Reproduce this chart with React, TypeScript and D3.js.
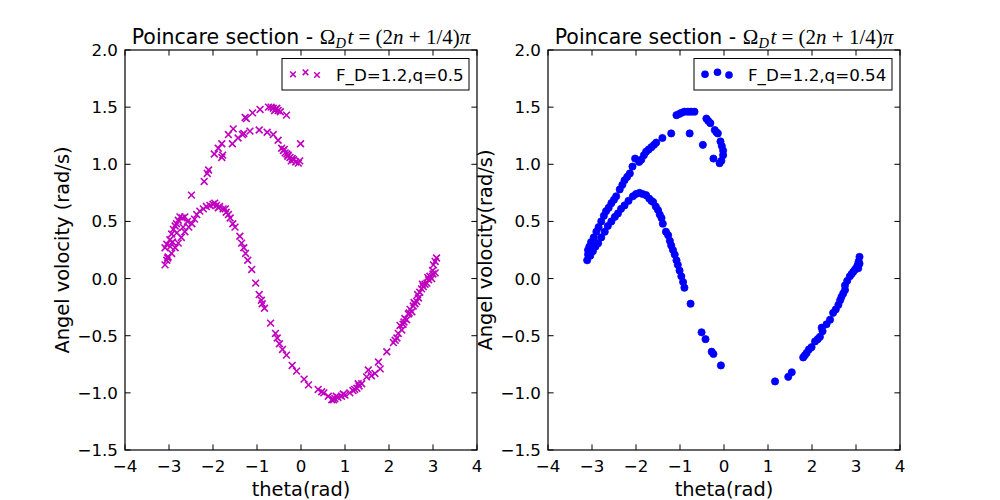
import React from "react";
import * as d3 from "d3";

const xTicks = [-4, -3, -2, -1, 0, 1, 2, 3, 4];
const yTicks = [-1.5, -1.0, -0.5, 0.0, 0.5, 1.0, 1.5, 2.0];

const leftLabel = "F_D=1.2,q=0.5";
const rightLabel = "F_D=1.2,q=0.54";

// q = 0.5 Poincare section (theta, omega)
const leftPoints: [number, number][] = [
  [-2.49, 0.73], [-2.20, 0.85], [-2.13, 0.92], [-2.10, 0.95], [-1.97, 1.09], [-1.78, 1.08], [-1.80, 1.06],
  [-1.88, 1.14], [-1.80, 1.18], [-1.65, 1.26], [-1.54, 1.31], [-1.56, 1.18], [-1.43, 1.23], [-1.33, 1.26],
  [-1.30, 1.27], [-1.16, 1.29], [-1.27, 1.41], [-1.24, 1.40], [-1.10, 1.45], [-0.93, 1.48], [-0.95, 1.30],
  [-0.77, 1.28], [-0.74, 1.50], [-0.68, 1.50], [-0.63, 1.49], [-0.58, 1.48], [-0.52, 1.47], [-0.47, 1.46],
  [-0.60, 1.47], [-0.55, 1.49], [-0.33, 1.43], [-0.63, 1.26], [-0.52, 1.21], [-0.44, 1.14], [-0.40, 1.12],
  [-0.36, 1.10], [-0.32, 1.09], [-0.29, 1.08], [-0.25, 1.06], [-0.20, 1.05], [-0.17, 1.04], [-0.12, 1.02],
  [-0.06, 1.01], [-0.03, 1.03], [-0.38, 1.13], [-0.30, 1.07], [-0.22, 1.03], [-0.01, 1.18],
  [-3.09, 0.12], [-3.05, 0.16], [-3.02, 0.19], [-3.09, 0.27], [-3.05, 0.30], [-2.98, 0.34], [-2.94, 0.39],
  [-2.90, 0.43], [-2.86, 0.46], [-2.83, 0.48], [-2.79, 0.51], [-2.75, 0.54], [-2.70, 0.53], [-2.64, 0.54],
  [-3.03, 0.18], [-2.94, 0.22], [-2.86, 0.27], [-2.79, 0.31], [-2.72, 0.36], [-2.64, 0.41], [-2.55, 0.45],
  [-2.48, 0.48], [-2.42, 0.52], [-2.37, 0.56], [-2.30, 0.59], [-2.22, 0.61], [-2.15, 0.63], [-2.07, 0.64],
  [-2.00, 0.65], [-1.92, 0.64], [-1.85, 0.63], [-1.77, 0.61], [-1.70, 0.58], [-1.65, 0.56], [-1.61, 0.53],
  [-1.55, 0.48], [-1.50, 0.45], [-1.39, 0.37], [-1.35, 0.31], [-1.30, 0.27], [-1.26, 0.22], [-1.21, 0.16],
  [-1.12, 0.08], [-1.03, -0.04], [-0.95, -0.14], [-0.90, -0.19], [-0.88, -0.22], [-0.83, -0.26],
  [-0.69, -0.39], [-0.58, -0.48], [-0.54, -0.52], [-0.49, -0.57], [-0.42, -0.62], [-0.33, -0.67],
  [-0.20, -0.76], [-0.10, -0.81], [0.07, -0.88], [0.17, -0.93], [0.39, -0.97], [0.47, -0.99], [0.52, -1.00],
  [0.70, -1.06], [0.74, -1.06], [0.77, -1.05], [0.84, -1.04], [0.92, -1.03], [1.00, -1.02], [1.11, -1.00],
  [1.18, -0.98], [1.27, -0.96], [1.32, -0.94], [1.38, -0.92], [1.49, -0.86], [1.53, -0.80], [1.60, -0.85],
  [1.68, -0.83], [1.76, -0.73], [1.80, -0.79], [1.95, -0.64], [2.10, -0.56], [2.14, -0.54], [2.18, -0.52],
  [2.21, -0.48], [2.25, -0.41], [2.29, -0.45], [2.32, -0.40], [2.36, -0.35], [2.40, -0.36], [2.44, -0.31],
  [2.48, -0.27], [2.52, -0.29], [2.55, -0.24], [2.59, -0.22], [2.63, -0.20], [2.67, -0.17], [2.70, -0.12],
  [2.74, -0.09], [2.78, -0.07], [2.82, -0.05], [2.86, -0.04], [2.90, -0.01], [2.93, 0.02], [2.97, 0.00],
  [3.00, 0.04], [3.05, 0.05], [3.01, 0.12], [3.05, 0.15], [3.08, 0.18],
  [2.34, -0.38], [2.46, -0.30], [2.57, -0.21], [2.65, -0.14], [2.76, -0.05], [2.88, 0.01], [2.99, 0.07],
  [0.62, -1.03], [0.80, -1.03], [0.96, -1.01], [1.22, -0.97], [1.30, -0.92], [-2.97, 0.28], [-2.92, 0.32],
  [-2.82, 0.40], [-2.68, 0.45], [-2.58, 0.50], [-1.96, 0.66], [-1.88, 0.62], [-1.72, 0.61],
];

// q = 0.54 Poincare section (theta, omega)
const rightPoints: [number, number][] = [
  [-3.11, 0.16], [-3.09, 0.21], [-3.09, 0.25], [-3.06, 0.28], [-3.02, 0.32], [-2.96, 0.36], [-2.90, 0.41],
  [-2.85, 0.45], [-2.79, 0.50], [-2.73, 0.55], [-2.68, 0.59], [-2.62, 0.62], [-2.56, 0.66], [-2.50, 0.69],
  [-2.45, 0.72], [-2.37, 0.78], [-2.31, 0.82], [-2.26, 0.86], [-2.20, 0.89], [-2.14, 0.92], [-2.08, 0.98],
  [-2.02, 1.05], [-1.93, 1.02], [-1.88, 1.04], [-1.82, 1.08], [-1.77, 1.11], [-1.71, 1.13], [-1.65, 1.15],
  [-1.59, 1.17], [-1.54, 1.19], [-1.40, 1.23], [-1.20, 1.27], [-1.08, 1.43], [-1.02, 1.44], [-0.97, 1.45],
  [-0.90, 1.46], [-0.82, 1.46], [-0.75, 1.46], [-0.67, 1.46], [-0.78, 1.27], [-0.48, 1.17], [-0.40, 1.40],
  [-0.36, 1.38], [-0.31, 1.36], [-0.21, 1.30], [-0.17, 1.28], [-0.14, 1.27], [-0.08, 1.20], [-0.05, 1.16],
  [-0.02, 1.12], [-0.02, 1.08], [-0.06, 1.03], [-0.10, 1.01], [-0.24, 1.05],
  [-3.04, 0.20], [-2.98, 0.24], [-2.92, 0.28], [-2.86, 0.31], [-2.79, 0.36], [-2.71, 0.41], [-2.64, 0.46],
  [-2.56, 0.50], [-2.48, 0.54], [-2.41, 0.57], [-2.34, 0.61], [-2.26, 0.64], [-2.17, 0.68], [-2.07, 0.72],
  [-2.00, 0.74], [-1.92, 0.75], [-1.85, 0.74], [-1.77, 0.73], [-1.70, 0.70], [-1.65, 0.68], [-1.61, 0.67],
  [-1.55, 0.63], [-1.50, 0.60], [-1.46, 0.56], [-1.42, 0.53], [-1.39, 0.48], [-1.32, 0.41], [-1.27, 0.38],
  [-1.23, 0.33], [-1.20, 0.29], [-1.16, 0.25], [-1.12, 0.21], [-1.08, 0.16], [-1.05, 0.12], [-1.01, 0.07],
  [-0.97, 0.02], [-0.93, -0.03], [-0.90, -0.08], [-0.76, -0.22], [-0.51, -0.47], [-0.42, -0.53],
  [-0.28, -0.64], [-0.24, -0.66], [-0.07, -0.76], [1.16, -0.90], [1.46, -0.86], [1.54, -0.82], [1.80, -0.69],
  [1.84, -0.67], [1.88, -0.65], [1.93, -0.62], [1.99, -0.60], [2.07, -0.55], [2.13, -0.53], [2.18, -0.51],
  [2.22, -0.43], [2.24, -0.46], [2.33, -0.40], [2.41, -0.36], [2.48, -0.30], [2.54, -0.27], [2.60, -0.23],
  [2.64, -0.19], [2.67, -0.16], [2.71, -0.13], [2.75, -0.10], [2.75, -0.06], [2.80, -0.02], [2.86, 0.02],
  [2.90, 0.04], [2.94, 0.06], [2.98, 0.08], [3.02, 0.10], [3.04, 0.12], [3.06, 0.15], [3.08, 0.19],
  [3.05, 0.09], [3.08, 0.13],
];

const MAGENTA = "#bf00bf";
const BLUE = "#0000ff";
const SANS = "'DejaVu Sans', sans-serif";
const MATH = "'Liberation Serif', 'DejaVu Serif', serif";

const fmtTick = (v: number, dec: number) => {
  const s = Math.abs(v).toFixed(dec);
  return v < 0 ? "\u2212" + s : s;
};

function XMark({ x, y, color }: { x: number; y: number; color: string }) {
  const h = 3.4;
  return (
    <path
      d={`M${x - h},${y - h}L${x + h},${y + h}M${x - h},${y + h}L${x + h},${y - h}`}
      stroke={color}
      strokeWidth={1.6}
      fill="none"
    />
  );
}

function Dot({ x, y, color }: { x: number; y: number; color: string }) {
  return <circle cx={x} cy={y} r={3.6} fill={color} stroke={color} strokeWidth={0.8} />;
}

function Panel({
  left,
  points,
  kind,
  color,
  label,
  ylabel,
  legendW,
}: {
  left: number;
  points: [number, number][];
  kind: "x" | "o";
  color: string;
  label: string;
  ylabel: string;
  legendW: number;
}) {
  const top = 50;
  const width = 352;
  const height = 400;
  const x = d3.scaleLinear().domain([-4, 4]).range([left, left + width]);
  const y = d3.scaleLinear().domain([-1.5, 2.0]).range([top + height, top]);
  const tl = 5.6;
  const cx = left + width / 2;
  const Mark = kind === "x" ? XMark : Dot;
  const legRight = left + width - 8;
  const legLeft = legRight - legendW;
  const legendOffsets = [
    [11, 16.3],
    [23.5, 14.3],
    [35, 17],
  ];
  return (
    <g>
      <rect x={left} y={top} width={width} height={height} fill="white" />
      {points.map((p, i) => (
        <Mark key={i} x={x(p[0])} y={y(p[1])} color={color} />
      ))}
      {xTicks.map((t) => (
        <g key={"xt" + t}>
          <line x1={x(t)} x2={x(t)} y1={top + height} y2={top + height - tl} stroke="black" strokeWidth={1} />
          <line x1={x(t)} x2={x(t)} y1={top} y2={top + tl} stroke="black" strokeWidth={1} />
          <text x={x(t)} y={top + height + 22} textAnchor="middle" fontFamily={SANS} fontSize={16.7}>
            {fmtTick(t, 0)}
          </text>
        </g>
      ))}
      {yTicks.map((t) => (
        <g key={"yt" + t}>
          <line x1={left} x2={left + tl} y1={y(t)} y2={y(t)} stroke="black" strokeWidth={1} />
          <line x1={left + width} x2={left + width - tl} y1={y(t)} y2={y(t)} stroke="black" strokeWidth={1} />
          <text x={left - 7} y={y(t) + 6} textAnchor="end" fontFamily={SANS} fontSize={16.7}>
            {fmtTick(t, 1)}
          </text>
        </g>
      ))}
      <rect x={left} y={top} width={width} height={height} fill="none" stroke="black" strokeWidth={1.2} />
      <text x={cx} y={44} textAnchor="middle">
        <tspan fontFamily={SANS} fontSize={20.5}>Poincare section - </tspan>
        <tspan fontFamily={MATH} fontSize={21}>
          Ω
        </tspan>
        <tspan fontFamily={MATH} fontStyle="italic" fontSize={14.5} dy={3.5}>
          D
        </tspan>
        <tspan fontFamily={MATH} fontStyle="italic" fontSize={21} dy={-3.5} dx={1.5}>
          {"t"}
        </tspan>
        <tspan fontFamily={MATH} fontSize={21}>
          {" = (2"}
        </tspan>
        <tspan fontFamily={MATH} fontStyle="italic" fontSize={21}>
          n
        </tspan>
        <tspan fontFamily={MATH} fontSize={21}>
          {" + 1/4)"}
        </tspan>
        <tspan fontFamily={MATH} fontStyle="italic" fontSize={21}>
          π
        </tspan>
      </text>
      <text x={cx} y={496} textAnchor="middle" fontFamily={SANS} fontSize={19.4}>
        theta(rad)
      </text>
      <text
        transform={`translate(${left - 56},${top + height / 2}) rotate(-90)`}
        textAnchor="middle"
        fontFamily={SANS}
        fontSize={19.4}
      >
        {ylabel}
      </text>
      <rect x={legLeft} y={58.5} width={legendW} height={31.5} fill="white" stroke="black" strokeWidth={1} />
      {legendOffsets.map((o, i) =>
        kind === "x" ? (
          <path
            key={i}
            d={`M${legLeft + o[0] - 2.8},${58 + o[1] - 2.8}l5.6,5.6M${legLeft + o[0] - 2.8},${58 + o[1] + 2.8}l5.6,-5.6`}
            stroke={color}
            strokeWidth={1.5}
          />
        ) : (
          <circle key={i} cx={legLeft + o[0]} cy={58 + o[1]} r={3.8} fill={color} />
        )
      )}
      <text x={legLeft + 54} y={80.5} fontFamily={SANS} fontSize={16.7}>
        {label}
      </text>
    </g>
  );
}

export default function App() {
  return (
    <svg
      width={1000}
      height={500}
      style={{ position: "absolute", left: 0, top: 0, background: "white" }}
    >
      <rect x={0} y={0} width={1000} height={500} fill="white" />
      <Panel
        left={125}
        points={leftPoints}
        kind="x"
        color={MAGENTA}
        label={leftLabel}
        ylabel="Angel volocity (rad/s)"
        legendW={187}
      />
      <Panel
        left={548}
        points={rightPoints}
        kind="o"
        color={BLUE}
        label={rightLabel}
        ylabel="Angel volocity(rad/s)"
        legendW={198}
      />
    </svg>
  );
}
